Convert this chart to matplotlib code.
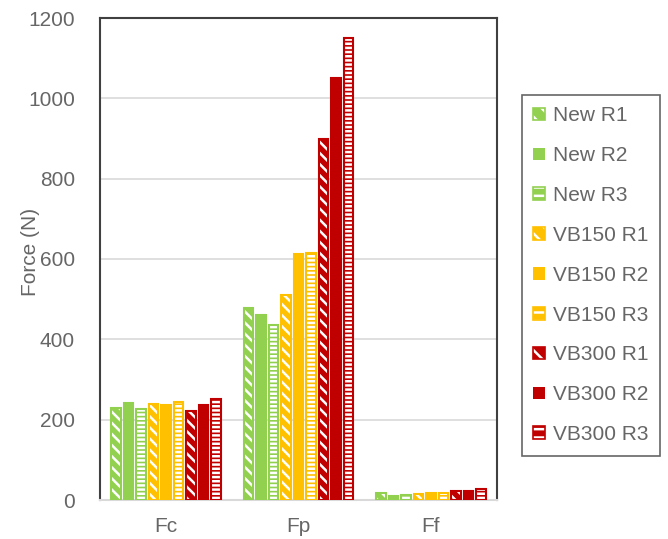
import numpy as np
import matplotlib.pyplot as plt
from matplotlib.patches import Patch

plt.rcParams['font.family'] = ['Liberation Sans', 'DejaVu Sans']
plt.rcParams['hatch.linewidth'] = 1.8

# 数据
categories = ['Fc', 'Fp', 'Ff']
series = ['New R1', 'New R2', 'New R3',
          'VB150 R1', 'VB150 R2', 'VB150 R3',
          'VB300 R1', 'VB300 R2', 'VB300 R3']
new_r1 = [228, 478, 17]
new_r2 = [241, 460, 10]
new_r3 = [226, 435, 12]
vb150_r1 = [240, 511, 15]
vb150_r2 = [237, 613, 18]
vb150_r3 = [243, 614, 18]
vb300_r1 = [222, 900, 23]
vb300_r2 = [236, 1050, 23]
vb300_r3 = [251, 1149, 27]
values = [new_r1, new_r2, new_r3, vb150_r1, vb150_r2, vb150_r3,
          vb300_r1, vb300_r2, vb300_r3]

green, yellow, red = '#92D050', '#FFC000', '#C00000'
colors = [green] * 3 + [yellow] * 3 + [red] * 3
hatches = ['\\\\\\', None, '----'] * 3
text_c = '#666666'

fig = plt.figure(figsize=(6.68, 5.39), dpi=100)
ax = fig.add_axes([100 / 668, 39 / 539, 397 / 668, 482 / 539])

x = np.arange(len(categories))
pitch = 0.0945
width = 0.072
handles = []
for i, (name, vals, c, h) in enumerate(zip(series, values, colors, hatches)):
    pos = x + (i - 4) * pitch
    if h is None:
        ax.bar(pos, vals, width, color=c, edgecolor=c, linewidth=1.5, zorder=3)
        handles.append(Patch(facecolor=c, edgecolor=c, linewidth=0))
    else:
        # 先画带白色斜线/横线的填充，再叠一层彩色边框
        ax.bar(pos, vals, width, facecolor=c, edgecolor='white', hatch=h,
               linewidth=0, zorder=3)
        ax.bar(pos, vals, width, fill=False, edgecolor=c, linewidth=1.5, zorder=4)
        handles.append((Patch(facecolor=c, edgecolor='white',
                              hatch='\\\\' if '\\' in h else '--', linewidth=0),
                        Patch(fill=False, edgecolor=c, linewidth=1.2)))

ax.set_xlim(-0.5, 2.5)
ax.set_ylim(0, 1200)
ax.set_yticks(range(0, 1201, 200))
ax.set_xticks(x)
ax.set_xticklabels(categories)
ax.tick_params(length=0, labelsize=15, colors=text_c, pad=12)
ax.tick_params(axis='y', pad=18)
ax.grid(axis='y', color='#d9d9d9', linewidth=1.2, zorder=0)
ax.set_axisbelow(True)
for s in ['left', 'top', 'right']:
    ax.spines[s].set_color('#404040')
    ax.spines[s].set_linewidth(1.5)
ax.spines['bottom'].set_color('#d9d9d9')
ax.spines['bottom'].set_linewidth(1.5)
ax.set_ylabel('Force (N)', fontsize=15, color=text_c)
ax.yaxis.set_label_coords(-0.15, 0.515)

leg = fig.legend(handles, series, loc='upper left',
                 bbox_to_anchor=(522 / 668, 1 - 95 / 539), borderaxespad=0,
                 fontsize=15, frameon=True, fancybox=False, edgecolor='#404040',
                 handlelength=0.55, handleheight=0.55, handletextpad=0.4,
                 labelspacing=1.0, borderpad=0.55, labelcolor=text_c)
leg.get_frame().set_linewidth(1.2)

fig.savefig('out.png', dpi=100)
